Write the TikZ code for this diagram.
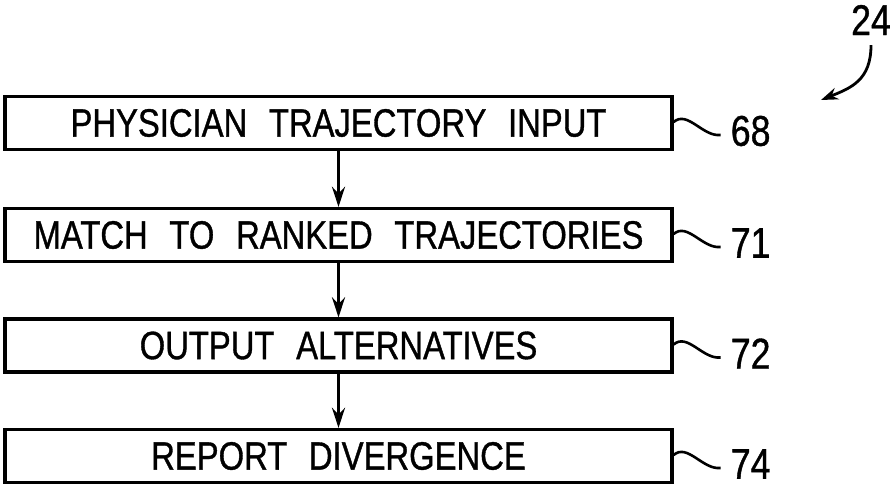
\documentclass[tikz,border=0pt]{standalone}
\usepackage{fontspec}
\newfontfamily\pfont[FakeStretch=0.83,FakeBold=0.9]{Liberation Sans}
\usetikzlibrary{arrows.meta}
\newcommand{\wsp}{\hspace{0.55em}}
\tikzset{
  stepbox/.style={draw, line width=3.2pt, minimum width=667pt, minimum height=53pt, inner sep=0pt, font=\pfont\fontsize{39.5}{39.5}\selectfont},
  flow/.style={line width=3.4pt, -{Stealth[length=20pt,width=13pt]}},
  squig/.style={line width=2.6pt},
  reflab/.style={anchor=west, inner sep=0pt, font=\pfont\fontsize{43}{43}\selectfont}
}
\begin{document}
\begin{tikzpicture}[x=1pt,y=-1pt]
\useasboundingbox (0,0) rectangle (894,486);
\node[stepbox] (b1) at (338.5,123) {PHYSICIAN\wsp TRAJECTORY\wsp INPUT};
\node[stepbox] (b2) at (338.5,235) {MATCH\wsp TO\wsp RANKED\wsp TRAJECTORIES};
\node[stepbox] (b3) at (338.5,345.5) {OUTPUT\wsp ALTERNATIVES};
\node[stepbox] (b4) at (338.5,456) {REPORT\wsp DIVERGENCE};
\draw[flow] (b1.south) -- (b2.north);
\draw[flow] (b2.south) -- (b3.north);
\draw[flow] (b3.south) -- (b4.north);
\foreach \b/\t in {b1/68, b2/71, b3/72, b4/74}{
  \draw[squig] ([yshift=1pt]\b.east) .. controls +(14pt,12pt) and +(-18pt,-2pt) .. ([xshift=47pt,yshift=-12pt]\b.east);
  \node[reflab] (\b l) at ([xshift=57pt,yshift=-8pt]\b.east) {\t};
}
\node[inner sep=0pt, font=\pfont\fontsize{43}{43}\selectfont] (n24) at (871,20) {24};
\coordinate (a24) at (821,100);
\draw[line width=2.8pt, -{Stealth[length=17pt,width=12pt]}] ([yshift=-10pt]n24.south) .. controls +(0,-35pt) and +(30pt,12pt) .. (a24);
\end{tikzpicture}
\end{document}
